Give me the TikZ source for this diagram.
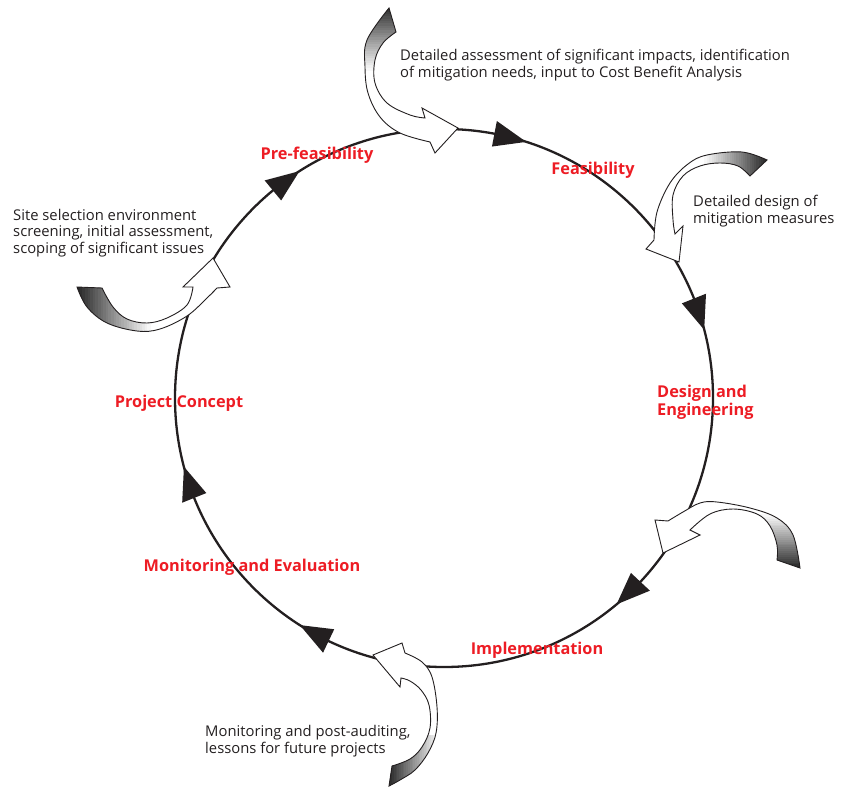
\documentclass[tikz,border=0pt]{standalone}
\usepackage{fontspec}
\setmainfont{Open Sans}
\definecolor{myred}{RGB}{237,28,36}
\definecolor{ink}{RGB}{35,31,32}
\newcommand{\gradV}[4]{% x1, x2, y dark, y white
  \foreach \i in {0,...,29}{%
    \pgfmathsetmacro\pct{90*(1-\i/30)}%
    \fill[black!\pct] (#1,{#3+(#4-#3)*\i/30}) rectangle (#2,{#3+(#4-#3)*(\i+1.3)/30});}}
\newcommand{\gradH}[4]{% y1, y2, x dark, x white
  \foreach \i in {0,...,29}{%
    \pgfmathsetmacro\pct{90*(1-\i/30)}%
    \fill[black!\pct] ({#3+(#4-#3)*\i/30},#1) rectangle ({#3+(#4-#3)*(\i+1.3)/30},#2);}}
\begin{document}
\begin{tikzpicture}[x=1pt,y=-1pt,
  note/.style={font=\fontsize{14.8}{16.5}\selectfont, align=left, anchor=west, inner sep=0pt, text=ink},
  stage/.style={font=\bfseries\fontsize{16.3}{18}\selectfont, text=myred, inner sep=0pt},
  cycleline/.style={draw=ink, line width=2.3pt},
  ribbon/.style={draw=ink, line width=0.9pt, fill=white, line join=miter},
  headtri/.style={fill=ink}]
\useasboundingbox (0,0) rectangle (842,794);
% main cycle
\coordinate (C) at (444,398);
\draw[cycleline] (C) circle[radius=269];
\begin{scope}[shift={(444,398)}]
\foreach \a in {-72.2,-14.7,50.1,122.4,165.2,237.5}{
  \fill[headtri] (\a:269) -- ({\a-7}:256) -- ({\a-7}:282) -- cycle;
}
\end{scope}
% ribbon A (top)
\draw[ribbon, path picture={\gradV{350}{425}{0}{70}}]
  plot[smooth, tension=0.6] coordinates {(389,8) (367,40) (365,67) (368,93) (380,117) (400,133) (430,142)}
  -- (435,153) -- (458,128) -- (422,108) -- (425,118)
  -- plot[smooth, tension=0.6] coordinates {(425,118) (410,115) (387,103) (375,83) (375,60) (383,43) (396,32)}
  -- cycle;
% ribbon B (right top)
\draw[ribbon, path picture={\gradH{140}{185}{772}{705}}]
  plot[smooth, tension=0.6] coordinates {(767,160) (742,152) (707,155) (688,164) (670,183) (657,212) (654,240)}
  -- (646,249) -- (679,262) -- (683,226) -- (675,234)
  -- plot[smooth, tension=0.6] coordinates {(675,234) (673,220) (673,195) (683,176) (700,166) (720,163) (738,166) (750,176)}
  -- cycle;
% ribbon C (left)
\draw[ribbon, path picture={\gradH{280}{340}{72}{150}}]
  plot[smooth, tension=0.6] coordinates {(77,287) (87,307) (107,323) (137,331) (160,329) (187,316) (207,298) (217,288)}
  -- (230,287) -- (213,258) -- (183,287) -- (193,287)
  -- plot[smooth, tension=0.6] coordinates {(193,287) (187,305) (167,318) (147,323) (127,319) (113,307) (102,288)}
  -- cycle;
% ribbon D (right bottom)
\draw[ribbon, path picture={\gradV{755}{810}{572}{515}}]
  plot[smooth, tension=0.6] coordinates {(800,568) (793,535) (777,518) (750,508) (717,502) (700,503) (683,512) (668,521)}
  -- (655,520) -- (663,553) -- (700,535) -- (690,530)
  -- plot[smooth, tension=0.6] coordinates {(690,530) (710,514) (733,509) (757,514) (770,526) (777,545) (777,560)}
  -- cycle;
% ribbon E (bottom)
\draw[ribbon, path picture={\gradH{735}{792}{385}{438}}]
  plot[smooth, tension=0.6] coordinates {(389,786) (400,780) (415,770) (428,753) (436,733) (437,707) (432,677) (422,662) (405,653)}
  -- (402,643) -- (373,655) -- (400,687) -- (401,678)
  -- plot[smooth, tension=0.6] coordinates {(401,678) (410,681) (421,690) (429,705) (430,728) (422,747) (410,759) (392,766)}
  -- cycle;
% stage labels
\node[stage] (pre) at (317,155) {Pre-feasibility};
\node[stage] (feas) at (593,170) {Feasibility};
\node[stage, align=left, anchor=west] (design) at (657,402) {Design and\\Engineering};
\node[stage] (impl) at (537,650) {Implementation};
\node[stage] (mon) at (252,567) {Monitoring and Evaluation};
\node[stage] (concept) at (179,403) {Project Concept};
% notes
\node[note] (nA) at (400,65) {Detailed assessment of significant impacts, identification\\of mitigation needs, input to Cost Benefit Analysis};
\node[note] (nB) at (693,211) {Detailed design of\\mitigation measures};
\node[note] (nC) at (13,233) {Site selection environment\\screening, initial assessment,\\scoping of significant issues};
\node[note] (nE) at (205,741) {Monitoring and post-auditing,\\lessons for future projects};
\end{tikzpicture}
\end{document}
